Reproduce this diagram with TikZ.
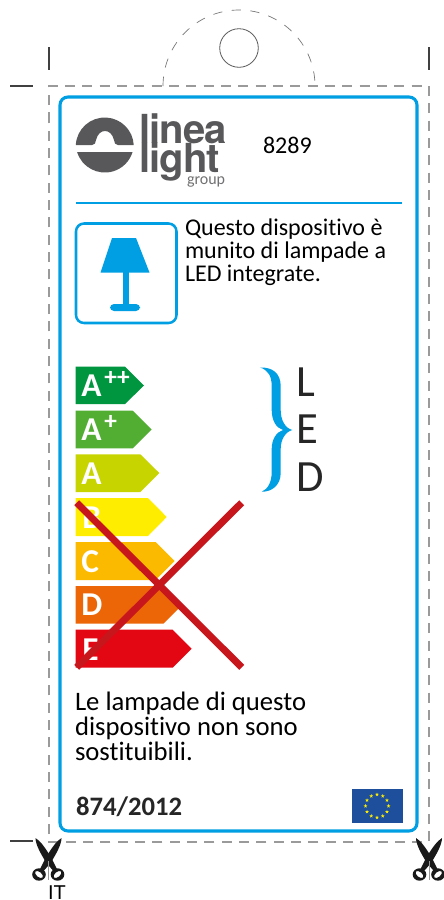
\documentclass[tikz,border=0pt]{standalone}
\usepackage{fontspec}
\setmainfont[Ligatures=NoCommon]{Carlito}
\newfontfamily\logofont[LetterSpace=-2.5]{TeX Gyre Heros}
\newfontfamily\itfont{Liberation Sans}
\usetikzlibrary{shapes.geometric}
\definecolor{lblue}{HTML}{009FE3}
\definecolor{cutgray}{HTML}{9A9A9A}
\definecolor{logogray}{HTML}{58585A}
\definecolor{crossred}{HTML}{C8161D}
\definecolor{euflag}{HTML}{1D4F9C}
\definecolor{euyellow}{HTML}{FFED00}
\definecolor{g1}{RGB}{0,150,64}
\definecolor{g2}{RGB}{82,174,50}
\definecolor{g3}{RGB}{200,212,0}
\definecolor{g4}{RGB}{255,237,0}
\definecolor{g5}{RGB}{251,186,0}
\definecolor{g6}{RGB}{236,102,8}
\definecolor{g7}{RGB}{227,6,19}
\tikzset{
  x=0.75pt,y=-0.75pt,
  cutline/.style={draw=cutgray,line width=0.8pt,dash pattern=on 7.5pt off 5.5pt},
  tabline/.style={draw=black!55,line width=0.5pt,dash pattern=on 7pt off 7pt},
  cropmark/.style={draw=black!75,line width=0.9pt},
  label/.style={inner sep=0pt,outer sep=0pt,anchor=base west},
  para/.style={inner sep=0pt,outer sep=0pt,anchor=north west,align=left,text=black},
  grade/.style={inner sep=0pt,anchor=base west,text=white,font=\fontsize{25}{25}\selectfont\bfseries},
  gsup/.style={inner sep=0pt,anchor=base west,text=white,font=\fontsize{19}{19}\selectfont\bfseries},
  ledletter/.style={inner sep=0pt,anchor=base west,text=black!85,font=\fontsize{33.5}{33.5}\selectfont},
  eustar/.style={star,star points=5,star point ratio=2.4,fill=euyellow,inner sep=0pt,minimum size=3pt},
  scissors/.pic={
    \fill[black!90] (-13,-24) .. controls (-8,-21) and (-3,-14) .. (3.5,-3)
      -- (9,8) -- (4,8) -- (-2,1) .. controls (-7,-7) and (-13,-17) .. cycle;
    \fill[black!90] (13,-24) .. controls (8,-21) and (3,-14) .. (-3.5,-3)
      -- (-9,8) -- (-4,8) -- (2,1) .. controls (7,-7) and (13,-17) .. cycle;
    \fill[black!90,even odd rule]
      (-9.5,12.5) ellipse [x radius=6.8,y radius=6.2]
      (-9.5,12.5) ellipse [x radius=4.6,y radius=2.6,rotate=-40]
      (9,12.5) ellipse [x radius=6.8,y radius=6.2]
      (9,12.5) ellipse [x radius=4.6,y radius=2.6,rotate=40];
    \draw[cutgray,line width=0.5pt] (0,-1) -- (0,18);
  }
}
\begin{document}
\begin{tikzpicture}
\useasboundingbox (0,0) rectangle (443,900);
\fill[white] (0,0) rectangle (443,900);

% cut lines and marks
\draw[cutline] (49,122) -- (49,86) -- (429,86) -- (429,842) -- (49,842) -- (49,122);
\draw[tabline] (163,86) arc[start angle=180,end angle=360,radius=76] -- (315,86);
\draw[black!65,line width=0.6pt] (239,48) circle[radius=19.3];
\draw[cropmark] (49,47) -- (49,70);
\draw[cropmark] (429,47) -- (429,70);
\draw[cropmark] (10,86) -- (33,86);
\draw[cropmark] (10,841) -- (33,841);
\pic at (48.5,862) {scissors};
\pic at (429,862) {scissors};
\node[label,font=\itfont\fontsize{15}{15}\selectfont] (itlabel) at (48,899.5) {IT};

% frame
\draw[lblue,line width=2.3pt,rounded corners=6pt] (60,97) rectangle (417,831);
\draw[lblue,line width=1.9pt] (76,203) -- (402,203);

% logo
\fill[logogray] (75.8,145) arc[start angle=183,end angle=357,radius=29] -- (118,145)
  .. controls (115,145) and (114.5,143) .. (114,140)
  .. controls (112.5,134) and (109,131) .. (105,131)
  .. controls (101,131) and (97.5,134) .. (96,140)
  .. controls (95.5,143) and (95,145) .. (92,145) -- cycle;
\fill[logogray] (77.1,152) arc[start angle=163,end angle=17,radius=29] -- cycle;
\node[label,text=logogray,font=\logofont\fontsize{30}{30}\selectfont\bfseries] (logoline) at (139.5,143) {linea};
\node[label,text=logogray,font=\logofont\fontsize{30}{30}\selectfont\bfseries] (logolight) at (139.5,172) {light};
\node[label,text=logogray!85,font=\fontsize{12}{12}\selectfont] (logogroup) at (187,184) {group};
\node[label,text=black,font=\fontsize{18}{18}\selectfont] (code) at (263,153) {8289};

% lamp
\draw[lblue,line width=1.9pt,rounded corners=6pt] (76,223.5) rectangle (176.5,323);
\fill[lblue] (112,238) -- (136,238) -- (149.5,272.5) -- (100.5,272.5) -- cycle;
\fill[lblue] (122.5,272) rectangle (128.5,306);
\fill[lblue,rounded corners=3pt] (110,304) rectangle (140,311);
\node[para,font=\fontsize{18}{17.5}\selectfont] (lamptext) at (185,218.5) {Questo dispositivo è\\munito di lampade a\\LED integrate.};

% energy arrows
\fill[g1] (75.7,366.7) -- (125,366.7) -- (144,385.5) -- (125,404) -- (75.7,404) -- cycle;
\fill[g2] (75.7,410.7) -- (132.7,410.7) -- (151.7,429.5) -- (132.7,448.3) -- (75.7,448.3) -- cycle;
\fill[g3] (75.7,454.3) -- (140.3,454.3) -- (159.3,473) -- (140.3,492) -- (75.7,492) -- cycle;
\fill[g4] (75.7,498) -- (148,498) -- (166.7,517) -- (148,536) -- (75.7,536) -- cycle;
\fill[g5] (75.7,542) -- (155.7,542) -- (174.7,561) -- (155.7,580) -- (75.7,580) -- cycle;
\fill[g6] (75.7,586) -- (163.3,586) -- (182.3,605) -- (163.3,623.7) -- (75.7,623.7) -- cycle;
\fill[g7] (75.7,629.7) -- (172.7,629.7) -- (191.7,648.7) -- (172.7,667.7) -- (75.7,667.7) -- cycle;
\node[grade] (ga2) at (81,396) {A};
\node[gsup] (ga2s) at (104,385) {++};
\node[grade] (ga1) at (81,440) {A};
\node[gsup] (ga1s) at (104,429) {+};
\node[grade] (ga) at (81,484) {A};
\node[grade] (gb) at (82,528) {B};
\node[grade] (gc) at (81,572) {C};
\node[grade] (gd) at (81,615) {D};
\node[grade] (ge) at (82,660) {E};
\draw[crossred,line width=5.2pt] (76.7,502.7) -- (241.7,667.3);
\draw[crossred,line width=5.2pt] (241.7,502.7) -- (76.7,667.3);

% brace
\fill[lblue] (260,367.5) .. controls (272,367) and (280.7,373) .. (280.7,386)
  -- (280.7,410) .. controls (280.7,420) and (285,428) .. (292.3,430)
  .. controls (285,432) and (280.7,440) .. (280.7,449)
  -- (280.7,473) .. controls (280.7,485) and (272,492) .. (261.7,491.7)
  .. controls (268,489) and (271.7,482) .. (271.7,472)
  -- (271.7,449) .. controls (271.7,440) and (276,432) .. (283,430)
  .. controls (276,428) and (271.7,420) .. (271.7,410)
  -- (271.7,386) .. controls (271.7,376) and (268,370) .. cycle;
\node[ledletter] (ledl) at (296,396) {L};
\node[ledletter] (lede) at (296,443) {E};
\node[ledletter] (ledd) at (296,491) {D};

% bottom
\node[para,font=\fontsize{20}{18.75}\selectfont] (bottomtext) at (75,691.5) {Le lampade di questo\\dispositivo non sono\\sostituibili.};
\node[label,text=black!85,font=\fontsize{20}{20}\selectfont\bfseries] (regno) at (76,815) {874/2012};
\fill[euflag] (351.7,789) rectangle (402.7,823);
\foreach \a in {0,30,...,330}
  \node[eustar] (s\a) at ({377+11.5*cos(\a)},{806+11.5*sin(\a)}) {};
\end{tikzpicture}
\end{document}
